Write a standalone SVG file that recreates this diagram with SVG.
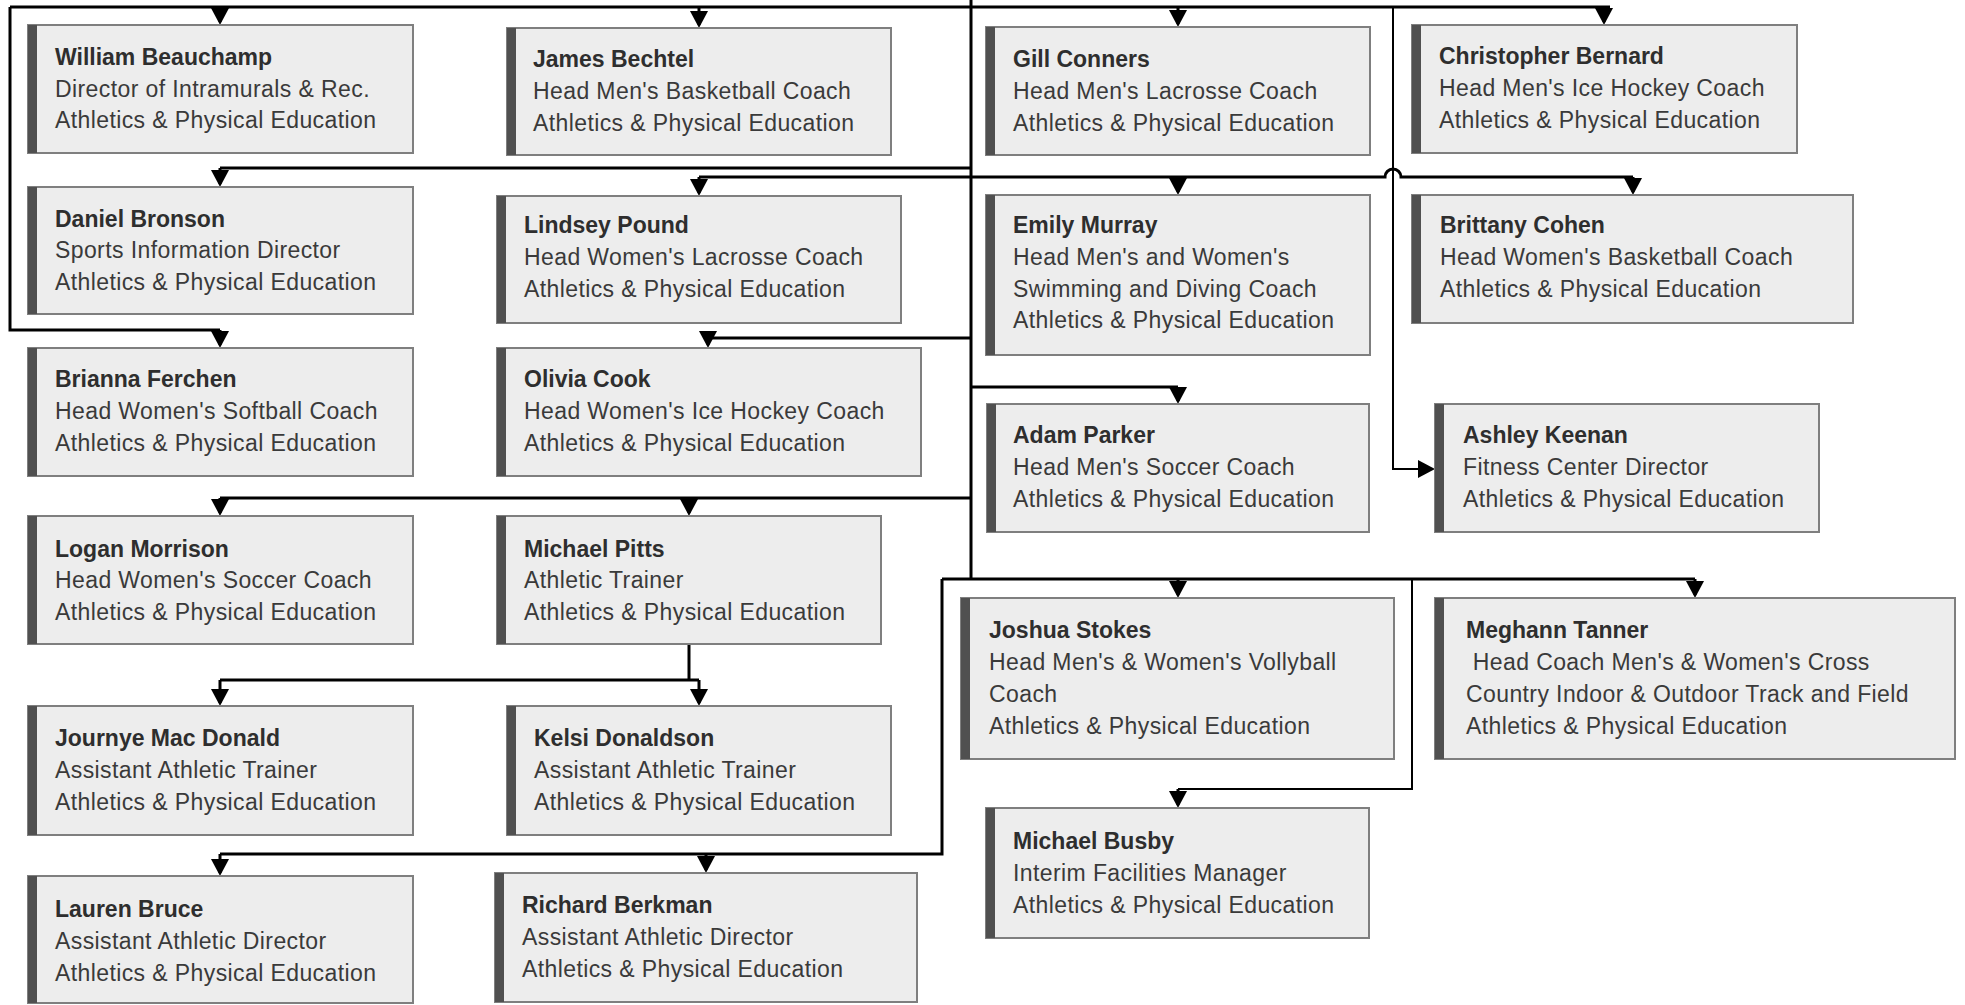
<svg xmlns="http://www.w3.org/2000/svg" width="1965" height="1005" viewBox="0 0 1965 1005">
<style>
.box{fill:#ededed;stroke:#7f7f7f;stroke-width:2}
.bar{fill:#505050}
text{font-family:"Liberation Sans",Arial,sans-serif;font-size:23px;letter-spacing:0.4px;fill:#3a3a3a}
.nm{font-weight:bold;fill:#2e2e2e;letter-spacing:0}
.ln{fill:none;stroke:#000;stroke-width:3}
.th{fill:none;stroke:#000;stroke-width:2}
.dr{fill:none;stroke:#000;stroke-width:3;marker-end:url(#ah)}
</style>
<defs>
<marker id="ah" viewBox="0 0 17 18" refX="14" refY="9" markerWidth="17" markerHeight="18" orient="auto" markerUnits="userSpaceOnUse"><path d="M0,0 L17,9 L0,18 z" fill="#000"/></marker>
</defs>
<g id="connectors">
<path class="ln" d="M10,7 H1610"/>
<path class="ln" d="M10,7 V330 H220"/>
<path class="ln" d="M971,0 V579"/>
<path class="th" d="M1393,7 V469 H1420"/>
<path class="ln" d="M220,168 H971"/>
<path class="ln" d="M699,177 H1385 A8,8 0 0 1 1401,177 H1633"/>
<path class="ln" d="M708,338 H971"/>
<path class="ln" d="M971,387 H1178"/>
<path class="ln" d="M220,498 H971"/>
<path class="ln" d="M689,644 V680"/>
<path class="ln" d="M220,680 H699"/>
<path class="ln" d="M942,579 H1695"/>
<path class="ln" d="M942,579 V854 H220"/>
<path class="th" d="M1412,579 V789 H1178"/>
<path class="dr" d="M220,7 V22"/>
<path class="dr" d="M699,7 V25"/>
<path class="dr" d="M1178,7 V24"/>
<path class="dr" d="M1604,7 V22"/>
<path class="dr" d="M220,168 V184"/>
<path class="dr" d="M699,177 V193"/>
<path class="dr" d="M1178,177 V192"/>
<path class="dr" d="M1633,177 V192"/>
<path class="dr" d="M220,330 V345"/>
<path class="dr" d="M708,338 V345"/>
<path class="dr" d="M1178,387 V401"/>
<path class="th" d="M1393,469 H1432" marker-end="url(#ah)"/>
<path class="dr" d="M220,498 V513"/>
<path class="dr" d="M689,498 V513"/>
<path class="dr" d="M220,680 V703"/>
<path class="dr" d="M699,680 V703"/>
<path class="dr" d="M1178,579 V595"/>
<path class="dr" d="M1695,579 V595"/>
<path class="dr" d="M1178,789 V805"/>
<path class="dr" d="M220,854 V873"/>
<path class="dr" d="M706,854 V870"/>
</g>
<g id="william"><rect class="box" x="28" y="25" width="385" height="128"/><rect class="bar" x="28" y="25" width="9" height="128"/><text class="nm" x="55" y="65">William Beauchamp</text><text x="55" y="97">Director of Intramurals &amp; Rec.</text><text x="55" y="128">Athletics &amp; Physical Education</text></g>
<g id="james"><rect class="box" x="507" y="28" width="384" height="127"/><rect class="bar" x="507" y="28" width="9" height="127"/><text class="nm" x="533" y="67">James Bechtel</text><text x="533" y="99">Head Men's Basketball Coach</text><text x="533" y="131">Athletics &amp; Physical Education</text></g>
<g id="gill"><rect class="box" x="986" y="27" width="384" height="128"/><rect class="bar" x="986" y="27" width="9" height="128"/><text class="nm" x="1013" y="67">Gill Conners</text><text x="1013" y="99">Head Men's Lacrosse Coach</text><text x="1013" y="131">Athletics &amp; Physical Education</text></g>
<g id="christopher"><rect class="box" x="1412" y="25" width="385" height="128"/><rect class="bar" x="1412" y="25" width="9" height="128"/><text class="nm" x="1439" y="64">Christopher Bernard</text><text x="1439" y="96">Head Men's Ice Hockey Coach</text><text x="1439" y="128">Athletics &amp; Physical Education</text></g>
<g id="daniel"><rect class="box" x="28" y="187" width="385" height="127"/><rect class="bar" x="28" y="187" width="9" height="127"/><text class="nm" x="55" y="227">Daniel Bronson</text><text x="55" y="258">Sports Information Director</text><text x="55" y="290">Athletics &amp; Physical Education</text></g>
<g id="lindsey"><rect class="box" x="497" y="196" width="404" height="127"/><rect class="bar" x="497" y="196" width="9" height="127"/><text class="nm" x="524" y="233">Lindsey Pound</text><text x="524" y="265">Head Women's Lacrosse Coach</text><text x="524" y="297">Athletics &amp; Physical Education</text></g>
<g id="emily"><rect class="box" x="986" y="195" width="384" height="160"/><rect class="bar" x="986" y="195" width="9" height="160"/><text class="nm" x="1013" y="233">Emily Murray</text><text x="1013" y="265">Head Men's and Women's</text><text x="1013" y="297">Swimming and Diving Coach</text><text x="1013" y="328">Athletics &amp; Physical Education</text></g>
<g id="brittany"><rect class="box" x="1412" y="195" width="441" height="128"/><rect class="bar" x="1412" y="195" width="9" height="128"/><text class="nm" x="1440" y="233">Brittany Cohen</text><text x="1440" y="265">Head Women's Basketball Coach</text><text x="1440" y="297">Athletics &amp; Physical Education</text></g>
<g id="brianna"><rect class="box" x="28" y="348" width="385" height="128"/><rect class="bar" x="28" y="348" width="9" height="128"/><text class="nm" x="55" y="387">Brianna Ferchen</text><text x="55" y="419">Head Women's Softball Coach</text><text x="55" y="451">Athletics &amp; Physical Education</text></g>
<g id="olivia"><rect class="box" x="497" y="348" width="424" height="128"/><rect class="bar" x="497" y="348" width="9" height="128"/><text class="nm" x="524" y="387">Olivia Cook</text><text x="524" y="419">Head Women's Ice Hockey Coach</text><text x="524" y="451">Athletics &amp; Physical Education</text></g>
<g id="adam"><rect class="box" x="987" y="404" width="382" height="128"/><rect class="bar" x="987" y="404" width="9" height="128"/><text class="nm" x="1013" y="443">Adam Parker</text><text x="1013" y="475">Head Men's Soccer Coach</text><text x="1013" y="507">Athletics &amp; Physical Education</text></g>
<g id="ashley"><rect class="box" x="1435" y="404" width="384" height="128"/><rect class="bar" x="1435" y="404" width="9" height="128"/><text class="nm" x="1463" y="443">Ashley Keenan</text><text x="1463" y="475">Fitness Center Director</text><text x="1463" y="507">Athletics &amp; Physical Education</text></g>
<g id="logan"><rect class="box" x="28" y="516" width="385" height="128"/><rect class="bar" x="28" y="516" width="9" height="128"/><text class="nm" x="55" y="557">Logan Morrison</text><text x="55" y="588">Head Women's Soccer Coach</text><text x="55" y="620">Athletics &amp; Physical Education</text></g>
<g id="pitts"><rect class="box" x="497" y="516" width="384" height="128"/><rect class="bar" x="497" y="516" width="9" height="128"/><text class="nm" x="524" y="557">Michael Pitts</text><text x="524" y="588">Athletic Trainer</text><text x="524" y="620">Athletics &amp; Physical Education</text></g>
<g id="joshua"><rect class="box" x="961" y="598" width="433" height="161"/><rect class="bar" x="961" y="598" width="9" height="161"/><text class="nm" x="989" y="638">Joshua Stokes</text><text x="989" y="670">Head Men's &amp; Women's Vollyball</text><text x="989" y="702">Coach</text><text x="989" y="734">Athletics &amp; Physical Education</text></g>
<g id="meghann"><rect class="box" x="1435" y="598" width="520" height="161"/><rect class="bar" x="1435" y="598" width="9" height="161"/><text class="nm" x="1466" y="638">Meghann Tanner</text><text x="1466" y="670" xml:space="preserve"> Head Coach Men's &amp; Women's Cross</text><text x="1466" y="702">Country Indoor &amp; Outdoor Track and Field</text><text x="1466" y="734">Athletics &amp; Physical Education</text></g>
<g id="journye"><rect class="box" x="28" y="706" width="385" height="129"/><rect class="bar" x="28" y="706" width="9" height="129"/><text class="nm" x="55" y="746">Journye Mac Donald</text><text x="55" y="778">Assistant Athletic Trainer</text><text x="55" y="810">Athletics &amp; Physical Education</text></g>
<g id="kelsi"><rect class="box" x="507" y="706" width="384" height="129"/><rect class="bar" x="507" y="706" width="9" height="129"/><text class="nm" x="534" y="746">Kelsi Donaldson</text><text x="534" y="778">Assistant Athletic Trainer</text><text x="534" y="810">Athletics &amp; Physical Education</text></g>
<g id="busby"><rect class="box" x="986" y="808" width="383" height="130"/><rect class="bar" x="986" y="808" width="9" height="130"/><text class="nm" x="1013" y="849">Michael Busby</text><text x="1013" y="881">Interim Facilities Manager</text><text x="1013" y="913">Athletics &amp; Physical Education</text></g>
<g id="lauren"><rect class="box" x="28" y="876" width="385" height="127"/><rect class="bar" x="28" y="876" width="9" height="127"/><text class="nm" x="55" y="917">Lauren Bruce</text><text x="55" y="949">Assistant Athletic Director</text><text x="55" y="981">Athletics &amp; Physical Education</text></g>
<g id="richard"><rect class="box" x="495" y="873" width="422" height="129"/><rect class="bar" x="495" y="873" width="9" height="129"/><text class="nm" x="522" y="913">Richard Berkman</text><text x="522" y="945">Assistant Athletic Director</text><text x="522" y="977">Athletics &amp; Physical Education</text></g>
</svg>
